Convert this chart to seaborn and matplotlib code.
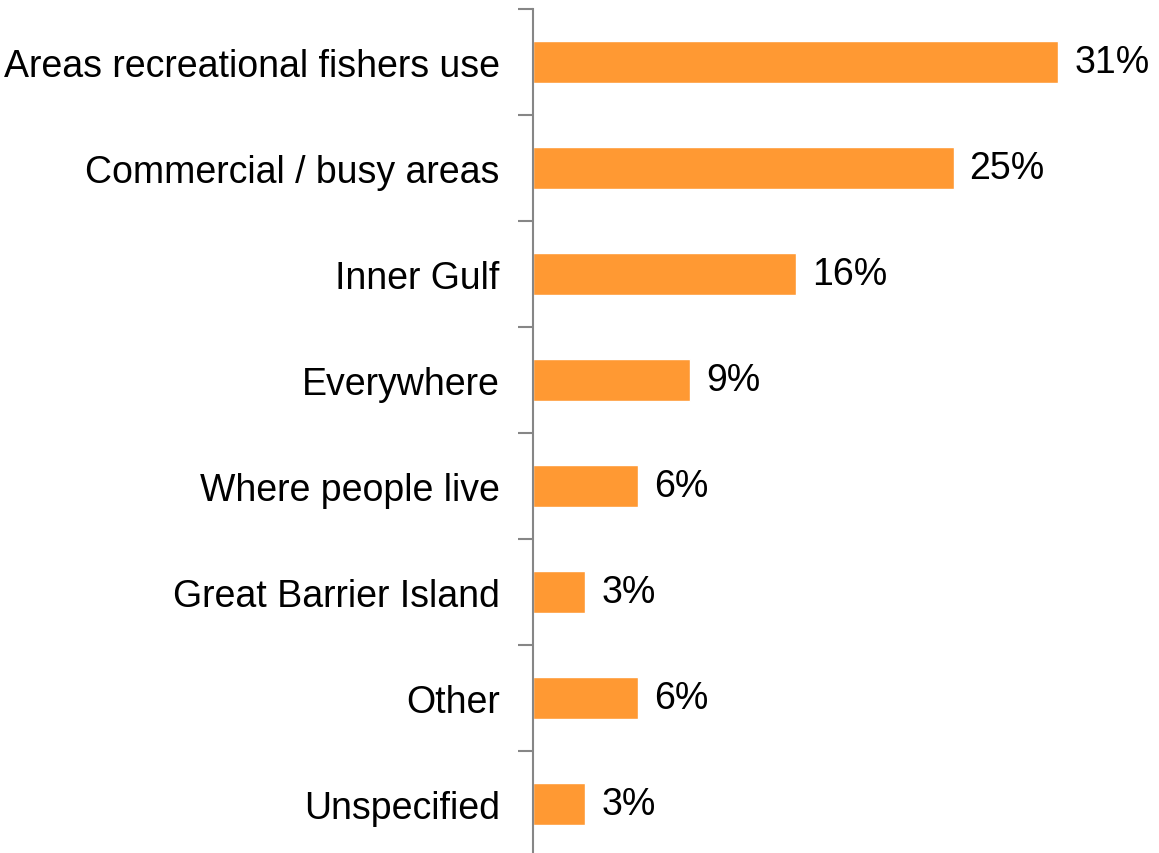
import matplotlib
matplotlib.use("Agg")
import matplotlib.pyplot as plt
import pandas as pd
import seaborn as sns

categories = ["Areas recreational fishers use", "Commercial / busy areas", "Inner Gulf",
              "Everywhere", "Where people live", "Great Barrier Island", "Other", "Unspecified"]
values = [31.1, 24.9, 15.6, 9.3, 6.2, 3.1, 6.2, 3.1]
labels = ["31%", "25%", "16%", "9%", "6%", "3%", "6%", "3%"]

df = pd.DataFrame({"cat": categories, "val": values})

sns.set_style("white")
plt.rcParams["font.family"] = ["Liberation Sans", "DejaVu Sans"]
plt.rcParams["text.color"] = "black"
plt.rcParams["ytick.color"] = "#868686"
plt.rcParams["ytick.labelcolor"] = "black"

fig = plt.figure(figsize=(11.59, 8.54), dpi=100)
ax = fig.add_axes([533 / 1159, -4 / 854, 608 / 1159, 848 / 854])

sns.barplot(data=df, x="val", y="cat", color="#FF9933", saturation=1, width=0.4, ax=ax)

for i, (v, lab) in enumerate(zip(values, labels)):
    ax.text(v + 0.95, i, lab, va="center", ha="left", fontsize=27, color="black")

ax.set_xlim(0, 36)
ax.set_ylim(7.5, -0.5)
ax.set_yticks([i - 0.5 for i in range(9)], minor=False)
ax.set_yticklabels([])
ax.set_yticks(range(8), minor=True)
ax.set_yticklabels(categories, minor=True, fontsize=27, color="black")
ax.tick_params(axis="y", which="major", length=11, width=1.5, color="#868686", left=True)
ax.tick_params(axis="y", which="minor", length=0, pad=24)
ax.set_xticks([])
ax.set_xlabel("")
ax.set_ylabel("")
for s in ["top", "right", "bottom"]:
    ax.spines[s].set_visible(False)
ax.spines["left"].set_color("#868686")
ax.spines["left"].set_linewidth(1.5)

fig.savefig("out.png", dpi=100)
